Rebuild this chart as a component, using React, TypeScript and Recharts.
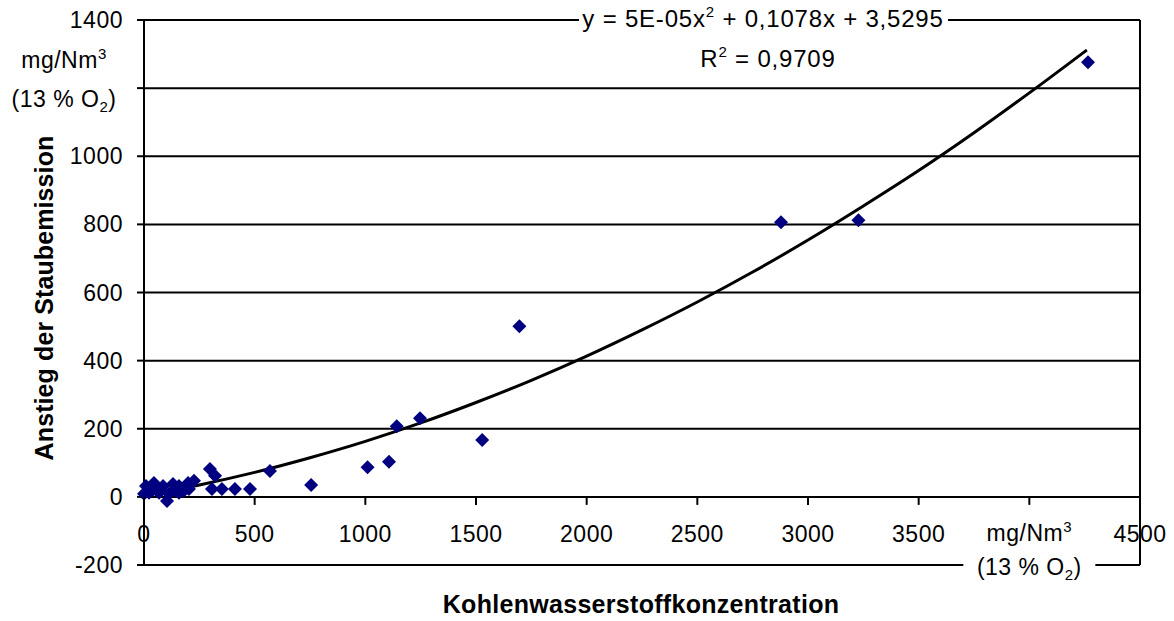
import React from "react";
import {
  ComposedChart,
  Scatter,
  Line,
  XAxis,
  YAxis,
  CartesianGrid,
  ReferenceLine,
} from "recharts";

// measured values: hydrocarbon concentration vs. rise of dust emission
const hcConc = [
  0, 9, 23, 45, 68, 86, 104, 113, 131, 158, 158, 199, 203, 226, 40, 140, 180,
  298, 321, 307, 352, 411, 479, 569, 755, 1010, 1107, 1142, 1247, 1528, 1696,
  2878, 3228, 4265,
];
const dustRise = [
  9, 32, 12, 41, 12, 32, -12, 9, 38, 32, 12, 41, 23, 47, 22, 20, 18, 82, 62, 23,
  23, 23, 23, 76, 35, 87, 103, 207, 231, 167, 501, 806, 812, 1276,
];

// polynomial trend line as drawn in the original
const trendX = [
  0, 250, 500, 750, 1000, 1250, 1500, 1750, 2000, 2250, 2500, 2750, 3000, 3250,
  3500, 3750, 4000, 4260,
];
const trendY = [
  3.5, 35, 72, 115, 163, 217, 277, 342, 413, 490, 572, 660, 754, 854, 958, 1069,
  1186, 1312,
];

const xTicks = [0, 500, 1000, 1500, 2000, 2500, 3000, 3500, 4000, 4500];
const yTicks = [-200, 0, 200, 400, 600, 800, 1000, 1200, 1400];

const points = hcConc.map((x, i) => ({ x, y: dustRise[i] }));
const trend = trendX.map((x, i) => ({ x, y: trendY[i] }));

const W = 1174;
const H = 621;
const FONT = '"Liberation Sans", Arial, Helvetica, sans-serif';
const MARGIN = { top: 20, right: 34, bottom: 26, left: 0 };
const PLOT_TOP = 20;
const PLOT_BOTTOM = 565;
const Y_MIN = -200;
const Y_MAX = 1400;
const ZERO_Y = PLOT_TOP + ((PLOT_BOTTOM - PLOT_TOP) * Y_MAX) / (Y_MAX - Y_MIN);

const tickText = {
  fontFamily: FONT,
  fontSize: 23,
  fill: "#000",
  letterSpacing: 0.5,
};

function Diamond(props: any) {
  const { cx, cy } = props;
  if (cx == null || cy == null) return null;
  const r = 7;
  return (
    <polygon
      points={`${cx},${cy - r} ${cx + r},${cy} ${cx},${cy + r} ${cx - r},${cy}`}
      fill="#000080"
    />
  );
}

function XTick(props: any) {
  const { x, payload } = props;
  const v = payload.value;
  return (
    <g>
      <line x1={x} x2={x} y1={ZERO_Y} y2={ZERO_Y + 8} stroke="#000" strokeWidth={2} />
      {v === 4000 ? (
        <>
          <text x={x} y={541} textAnchor="middle" {...tickText}>
            mg/Nm<tspan dy={-9} fontSize={15}>3</tspan>
          </text>
          <rect x={x - 66} y={552} width={132} height={26} fill="#fff" />
          <text x={x} y={575} textAnchor="middle" {...tickText}>
            (13 % O<tspan dy={5} fontSize={15}>2</tspan>
            <tspan dy={-5}>)</tspan>
          </text>
        </>
      ) : (
        <text x={x} y={542} textAnchor="middle" {...tickText}>
          {v}
        </text>
      )}
    </g>
  );
}

function YTick(props: any) {
  const { x, y, payload } = props;
  const v = payload.value;
  if (v === 1200) {
    return (
      <g>
        <text x={64} y={68} textAnchor="middle" {...tickText}>
          mg/Nm<tspan dy={-9} fontSize={15}>3</tspan>
        </text>
        <text x={64} y={107} textAnchor="middle" {...tickText}>
          (13 % O<tspan dy={5} fontSize={15}>2</tspan>
          <tspan dy={-5}>)</tspan>
        </text>
      </g>
    );
  }
  return (
    <text x={x} y={y} dy="0.35em" textAnchor="end" {...tickText}>
      {v}
    </text>
  );
}

export default function App() {
  return (
    <div
      style={{
        position: "absolute",
        left: 0,
        top: 0,
        width: W,
        height: H,
        background: "#fff",
      }}
    >
      <ComposedChart width={W} height={H} margin={MARGIN}>
        <CartesianGrid vertical={false} stroke="#000" strokeWidth={2} />
        <XAxis
          type="number"
          dataKey="x"
          domain={[0, 4500]}
          ticks={xTicks}
          height={30}
          axisLine={{ stroke: "#000", strokeWidth: 2 }}
          tickLine={false}
          tick={(p: any) => <XTick {...p} />}
          interval={0}
        />
        <YAxis
          type="number"
          dataKey="y"
          domain={[Y_MIN, Y_MAX]}
          ticks={yTicks}
          width={144}
          axisLine={{ stroke: "#000", strokeWidth: 2 }}
          tickLine={{ stroke: "#000", strokeWidth: 2 }}
          tickSize={7}
          tickMargin={14}
          tick={(p: any) => <YTick {...p} />}
          interval={0}
        />
        <ReferenceLine x={4500} stroke="#000" strokeWidth={2} />
        <Scatter data={points} shape={<Diamond />} isAnimationActive={false} />
        <Line
          data={trend}
          dataKey="y"
          type="monotone"
          stroke="#000"
          strokeWidth={3}
          dot={false}
          activeDot={false}
          isAnimationActive={false}
        />
      </ComposedChart>

      {/* equation, axis titles */}
      <svg
        width={W}
        height={H}
        style={{ position: "absolute", left: 0, top: 0, pointerEvents: "none" }}
      >
        <rect x={579} y={8} width={369} height={24} fill="#fff" />
        <text
          x={763}
          y={27}
          textAnchor="middle"
          fontFamily={FONT}
          fontSize={24}
          letterSpacing={0.8}
        >
          y = 5E-05x<tspan dy={-10} fontSize={15}>2</tspan>
          <tspan dy={10}> + 0,1078x + 3,5295</tspan>
        </text>
        <text
          x={768}
          y={67}
          textAnchor="middle"
          fontFamily={FONT}
          fontSize={24}
          letterSpacing={0.8}
        >
          R<tspan dy={-10} fontSize={15}>2</tspan>
          <tspan dy={10}> = 0,9709</tspan>
        </text>
        <text
          x={641}
          y={613}
          textAnchor="middle"
          fontFamily={FONT}
          fontSize={25}
          fontWeight="bold"
          letterSpacing={0.3}
        >
          Kohlenwasserstoffkonzentration
        </text>
        <text
          transform="translate(53,298) rotate(-90)"
          textAnchor="middle"
          fontFamily={FONT}
          fontSize={25}
          fontWeight="bold"
          letterSpacing={0.1}
        >
          Anstieg der Staubemission
        </text>
      </svg>
    </div>
  );
}
